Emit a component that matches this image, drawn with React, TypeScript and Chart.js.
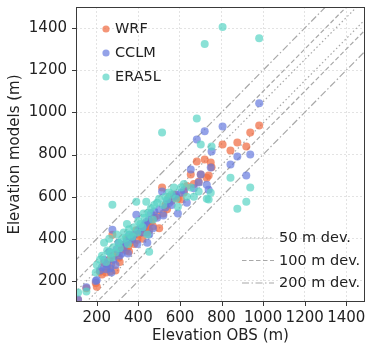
import React, { useEffect, useRef } from 'react';
import { Chart, registerables } from 'chart.js';

Chart.register(...registerables);

// Station elevations (m): observed vs. each model
const obsElevation = [
  110, 150, 195, 200, 215, 225, 235, 245, 250, 260, 265, 270, 275, 280, 290, 295, 305, 310, 320, 330,
  340, 345, 350, 355, 360, 370, 380, 390, 395, 400, 410, 420, 425, 430, 438, 443, 450, 452, 460, 470,
  476, 490, 500, 514, 520, 530, 538, 548, 560, 571, 581, 590, 605, 619, 633, 652, 667, 681, 690, 700,
  719, 729, 738, 748, 752, 805, 843, 876, 919, 938, 981,
];
const wrfElevation = [
  110, 165, 190, 172, 243, 230, 285, 240, 260, 300, 245, 280, 419, 320, 250, 330, 310, 290, 350, 370,
  345, 400, 360, 340, 380, 410, 375, 440, 395, 420, 430, 400, 450, 445, 460, 430, 470, 440, 480, 460,
  500, 510, 450, 643, 520, 560, 540, 600, 580, 610, 600, 590, 586, 620, 650, 705, 660, 767, 671, 705,
  776, 690, 700, 762, 740, 848, 819, 857, 838, 905, 938,
];
const cclmElevation = [
  112, 170, 200, 205, 250, 265, 300, 255, 280, 338, 260, 240, 443, 300, 276, 350, 381, 320, 330, 360,
  380, 390, 330, 419, 400, 395, 420, 514, 375, 440, 450, 430, 460, 470, 480, 381, 490, 420, 520, 450,
  529, 500, 540, 624, 510, 548, 580, 570, 560, 600, 610, 520, 619, 630, 571, 729, 640, 871, 667, 705,
  910, 657, 633, 738, 814, 933, 752, 790, 700, 800, 1043,
];
const era5lElevation = [
  145, 150, 240, 276, 300, 320, 381, 290, 345, 400, 330, 310, 562, 360, 335, 420, 380, 355, 395, 430,
  405, 470, 375, 445, 420, 410, 455, 576, 430, 485, 470, 455, 520, 500, 576, 420, 524, 338, 545, 490,
  560, 571, 590, 905, 560, 600, 586, 620, 610, 643, 590, 552, 643, 660, 600, 643, 600, 971, 624, 848,
  1324, 590, 586, 619, 838, 1405, 690, 543, 576, 643, 1352,
];

const seriesNames = ['WRF', 'CCLM', 'ERA5L'];
const deviations = [50, 100, 200];
const deviationLabels = ['50 m dev.', '100 m dev.', '200 m dev.'];
const axisTicks = [200, 400, 600, 800, 1000, 1200, 1400];

const FONT = '"DejaVu Sans", sans-serif';
const TEXT = '#222222';
const seriesColors = ['rgba(240,112,72,0.74)', 'rgba(102,122,222,0.70)', 'rgba(88,212,197,0.70)'];
const devDashes = [[1.5, 2.5], [4.5, 2.5], [7, 2.5, 1.5, 2.5]];
const devColor = '#a8a8a8';

export default function App() {
  const ref = useRef<HTMLCanvasElement>(null);

  useEffect(() => {
    document.body.style.margin = '0';
    const canvas = ref.current;
    if (!canvas) return;
    const pts = (ys: number[]) => obsElevation.map((x, i) => ({ x, y: ys[i] }));
    const modelSeries = [wrfElevation, cclmElevation, era5lElevation];

    const scatterSets = seriesNames.map((name, i) => ({
      type: 'scatter' as const,
      label: name,
      data: pts(modelSeries[i]),
      backgroundColor: seriesColors[i],
      borderWidth: 0,
      pointRadius: 4,
      pointHoverRadius: 4,
      order: 3 - i,
    }));

    const lineSets: any[] = [];
    deviations.forEach((d, k) => {
      [d, -d].forEach((off) => {
        lineSets.push({
          type: 'line' as const,
          label: deviationLabels[k],
          data: [
            { x: 0, y: off },
            { x: 1800, y: 1800 + off },
          ],
          borderColor: devColor,
          borderWidth: 1.2,
          borderDash: devDashes[k],
          pointRadius: 0,
          fill: false,
          order: 10,
        });
      });
    });

    const overlay = {
      id: 'overlay',
      afterDraw(chart: any) {
        const { ctx, chartArea: a, scales } = chart;
        ctx.save();
        // frame
        ctx.strokeStyle = '#3a3a3a';
        ctx.lineWidth = 1;
        ctx.setLineDash([]);
        ctx.strokeRect(a.left + 0.5, a.top + 0.5, a.right - a.left - 1, a.bottom - a.top - 1);
        // tick marks
        ctx.beginPath();
        axisTicks.forEach((v) => {
          const px = Math.round(scales.x.getPixelForValue(v)) + 0.5;
          ctx.moveTo(px, a.bottom);
          ctx.lineTo(px, a.bottom + 4);
          const py = Math.round(scales.y.getPixelForValue(v)) + 0.5;
          ctx.moveTo(a.left, py);
          ctx.lineTo(a.left - 4, py);
        });
        ctx.stroke();

        // series legend (top-left)
        ctx.font = `14.5px ${FONT}`;
        ctx.textBaseline = 'middle';
        ctx.textAlign = 'left';
        seriesNames.forEach((n, i) => {
          const y = a.top + 22 + 24 * i;
          ctx.beginPath();
          ctx.fillStyle = seriesColors[i];
          ctx.arc(a.left + 30, y, 3.6, 0, Math.PI * 2);
          ctx.fill();
          ctx.fillStyle = TEXT;
          ctx.fillText(n, a.left + 39, y + 0.5);
        });

        // deviation legend (bottom-right)
        deviationLabels.forEach((lbl, k) => {
          const y = a.bottom - 64 + 22.5 * k;
          ctx.beginPath();
          ctx.strokeStyle = devColor;
          ctx.lineWidth = 1.2;
          ctx.setLineDash(devDashes[k]);
          ctx.moveTo(a.right - 123, y);
          ctx.lineTo(a.right - 91, y);
          ctx.stroke();
          ctx.setLineDash([]);
          ctx.fillStyle = TEXT;
          ctx.fillText(lbl, a.right - 86, y + 0.5);
        });
        ctx.restore();
      },
    };

    const axisCommon = (title: string) => ({
      type: 'linear' as const,
      min: 100,
      afterBuildTicks: (s: any) => {
        s.ticks = axisTicks.map((v) => ({ value: v }));
      },
      grid: {
        color: '#dcdcdc',
        lineWidth: 0.8,
        drawTicks: true,
        tickLength: 4,
        tickColor: 'rgba(0,0,0,0)',
      },
      border: { display: false, dash: [2, 2] },
      ticks: {
        font: { family: FONT, size: 15 },
        color: TEXT,
        autoSkip: false,
        maxRotation: 0,
        callback: (v: any) => String(v),
      },
      title: {
        display: true,
        text: title,
        font: { family: FONT, size: 15 },
        color: TEXT,
      },
    });

    const xAxis: any = axisCommon('Elevation OBS (m)');
    xAxis.max = 1490;
    xAxis.afterFit = (s: any) => {
      s.height = 45;
      s.paddingLeft = 0;
      s.paddingRight = 0;
    };
    xAxis.ticks.padding = 3;
    xAxis.title.padding = { top: 0, bottom: 2 };

    const yAxis: any = axisCommon('Elevation models (m)');
    yAxis.max = 1500;
    yAxis.afterFit = (s: any) => {
      s.width = 76;
      s.paddingTop = 0;
      s.paddingBottom = 0;
    };
    yAxis.ticks.padding = 5;
    yAxis.title.padding = { top: 6, bottom: 0 };

    const chart = new Chart(canvas, {
      type: 'scatter',
      data: { datasets: [...scatterSets, ...lineSets] as any },
      options: {
        responsive: false,
        animation: false,
        devicePixelRatio: 1,
        layout: { padding: { top: 7, right: 3, left: 0, bottom: 0 } },
        plugins: {
          legend: { display: false },
          tooltip: { enabled: false },
        },
        scales: { x: xAxis, y: yAxis },
      },
      plugins: [overlay],
    });
    return () => chart.destroy();
  }, []);

  return (
    <div style={{ width: 369, height: 347 }}>
      <canvas ref={ref} width={369} height={347} style={{ display: 'block' }} />
    </div>
  );
}
